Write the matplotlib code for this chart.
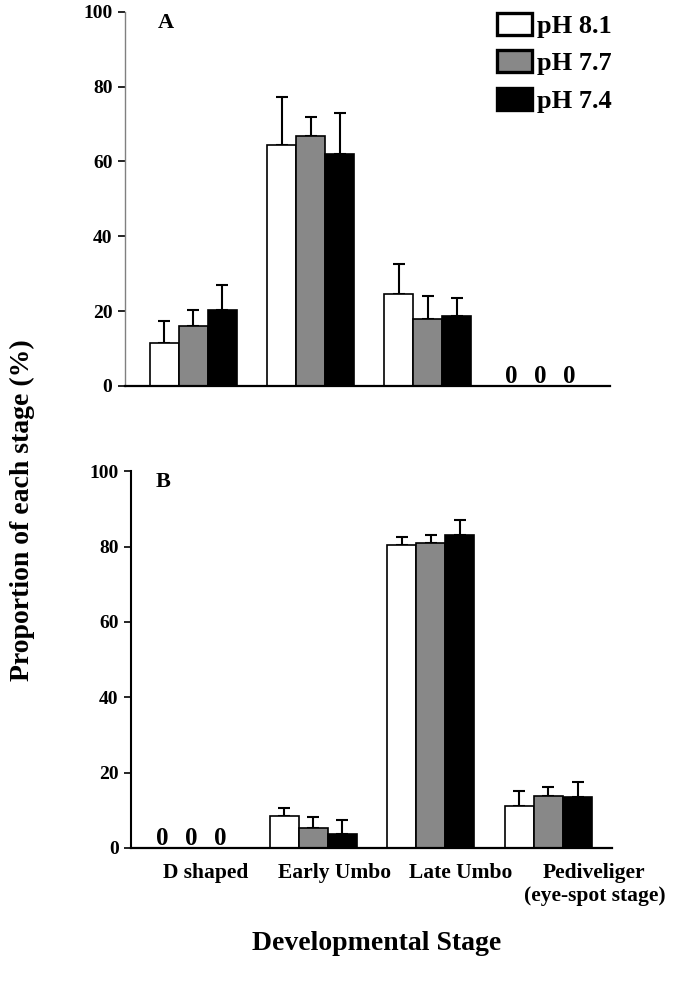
import numpy as np
import matplotlib.pyplot as plt

plt.rcParams["font.family"] = ["Liberation Serif", "DejaVu Serif"]
plt.rcParams["font.weight"] = "bold"

# =========================
# DATA
# =========================
stages = ["D shaped", "Early Umbo", "Late Umbo", "Pediveliger\n(eye-spot stage)"]
treatments = ["pH 8.1", "pH 7.7", "pH 7.4"]
colors = ["white", "#888888", "black"]

# panel A
a_81 = [11.6, 64.3, 24.7, 0]
a_77 = [16.0, 66.8, 17.8, 0]
a_74 = [20.2, 62.0, 18.7, 0]
a_81_err = [5.7, 12.8, 7.9, 0]
a_77_err = [4.2, 5.2, 6.2, 0]
a_74_err = [6.9, 10.9, 4.8, 0]

# panel B
b_81 = [0, 8.4, 80.5, 11.2]
b_77 = [0, 5.4, 80.9, 13.8]
b_74 = [0, 3.7, 83.2, 13.5]
b_81_err = [0, 2.2, 2.2, 3.8]
b_77_err = [0, 2.9, 2.3, 2.5]
b_74_err = [0, 3.8, 4.0, 3.9]

yticks = [0, 20, 40, 60, 80, 100]

# =========================
# FIGURE
# =========================
fig = plt.figure(figsize=(6.83, 9.82), dpi=100)
ax_a = fig.add_axes([0.183, 0.607, 0.710, 0.381])
ax_b = fig.add_axes([0.192, 0.1365, 0.704, 0.3835])

x = np.arange(len(stages))
w = 0.247


def dibujar_panel(ax, series, errores, letra, letra_x, xlim, gris_eje=False):
    for j, (vals, errs) in enumerate(zip(series, errores)):
        vals = np.array(vals, dtype=float)
        errs = np.array(errs, dtype=float)
        pos = x + (j - 1) * w
        hay = vals > 0
        ax.bar(pos[hay], vals[hay], width=w, color=colors[j], edgecolor="black",
               linewidth=1.2, label=treatments[j], zorder=2)
        ax.errorbar(pos[hay], vals[hay], yerr=[np.zeros(hay.sum()), errs[hay]],
                    fmt="none", ecolor="black", elinewidth=1.5, capsize=4,
                    capthick=1.5, zorder=1)
        for p in pos[~hay]:
            ax.text(p - 0.04, 0.8, "0", ha="center", va="baseline",
                    fontsize=18, fontweight="bold")
    ax.set_ylim(0, 100)
    ax.set_xlim(*xlim)
    ax.set_yticks(yticks)
    ax.tick_params(axis="y", direction="out", length=5, width=1.2,
                   labelsize=14, pad=4)
    ax.tick_params(axis="x", length=0)
    for s in ["top", "right"]:
        ax.spines[s].set_visible(False)
    ax.spines["bottom"].set_linewidth(1.6)
    if gris_eje:
        ax.spines["left"].set_color("#808080")
        ax.spines["left"].set_linewidth(1.0)
    else:
        ax.spines["left"].set_linewidth(1.5)
    ax.text(letra_x, 0.998, letra, transform=ax.transAxes, ha="left", va="top",
            fontsize=16, fontweight="bold")


dibujar_panel(ax_a, [a_81, a_77, a_74], [a_81_err, a_77_err, a_74_err], "A",
              0.068, (-0.58, 3.55), gris_eje=True)
dibujar_panel(ax_b, [b_81, b_77, b_74], [b_81_err, b_77_err, b_74_err], "B",
              0.05, (-0.55, 3.54))

ax_a.set_xticks([])

# etiquetas de estadio algo desplazadas a la derecha, como en el original
desplaz = [0.08, 0.18, 0.25, 0.39]
ax_b.set_xticks(x + np.array(desplaz))
ax_b.set_xticklabels(stages, fontsize=15.5, fontweight="bold")
ax_b.tick_params(axis="x", pad=11)

leg = ax_a.legend(loc="upper left", bbox_to_anchor=(0.767, 0.998), frameon=False,
                  fontsize=19, handlelength=1.33, handleheight=0.92,
                  handletextpad=0.2, labelspacing=0.47, borderpad=0,
                  borderaxespad=0)
for h in leg.legend_handles:
    h.set_linewidth(2.4)

fig.text(22 / 683, 1 - 510 / 982, "Proportion of each stage (%)", rotation=90,
         ha="center", va="center", fontsize=20, fontweight="bold")
fig.text(377 / 683, 1 - 943 / 982, "Developmental Stage", ha="center",
         va="center", fontsize=20, fontweight="bold")

fig.savefig("out.png", dpi=100)
